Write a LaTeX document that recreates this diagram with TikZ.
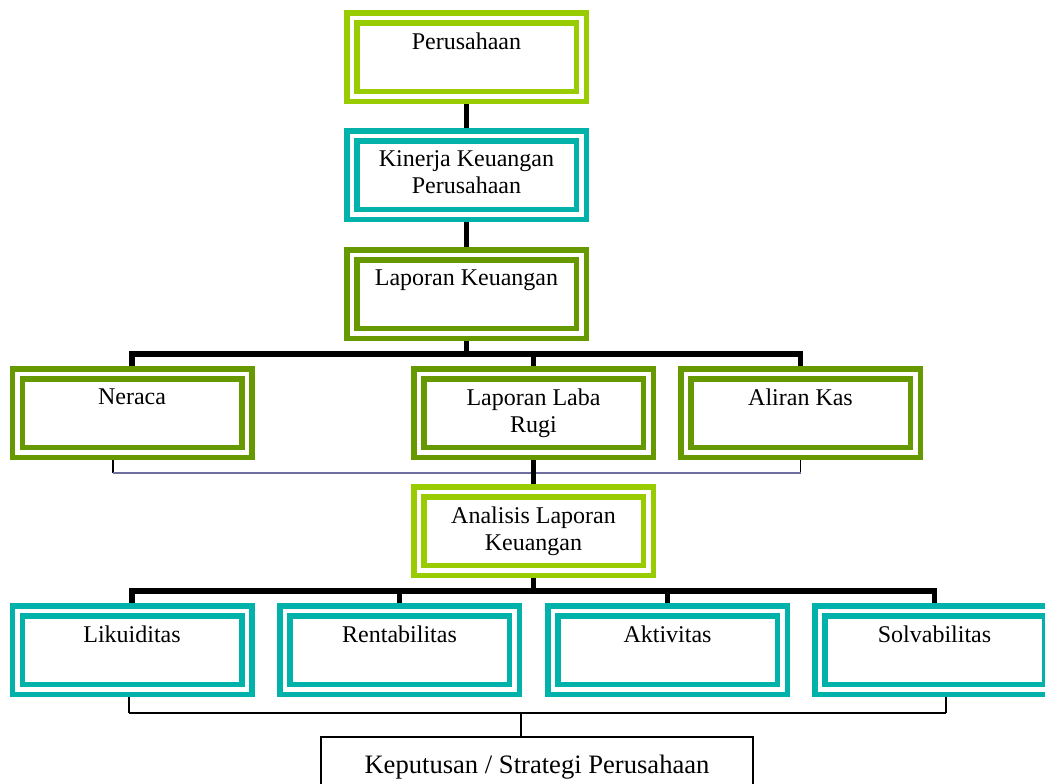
\documentclass[tikz,border=0pt]{standalone}
\usepackage{fontspec}
\setmainfont{Liberation Serif}
\usetikzlibrary{calc}

\definecolor{lgreen}{RGB}{153,204,0}
\definecolor{dgreen}{RGB}{102,153,0}
\definecolor{tealbox}{RGB}{0,178,170}
\definecolor{bluegray}{RGB}{112,112,160}

\begin{document}
\begin{tikzpicture}[x=0.5pt, y=-0.5pt,
  dbox/.style={draw=#1, double=white, line width=2.75pt, double distance=2.25pt,
    minimum width=114.75pt, minimum height=39.25pt, inner sep=0pt, outer sep=3.875pt},
  txt/.style={anchor=north, inner sep=0pt, align=center, font=\fontsize{12}{13.5}\selectfont},
  thk/.style={line width=2.75pt},
  thn/.style={line width=0.6pt}]
  \useasboundingbox (0,0) rectangle (1045,783);
  \clip (0,0) rectangle (1045,783);

  % Top column
  \node[dbox=lgreen] (per) at (466.5,57) {};
  \node[dbox=tealbox] (kin) at (466.5,175) {};
  \node[dbox=dgreen] (lap) at (466.5,294) {};

  % Statements
  \node[dbox=dgreen] (ner) at (132,413) {};
  \node[dbox=dgreen] (lrg) at (533.5,413) {};
  \node[dbox=dgreen] (ali) at (800.5,413) {};
  \node[dbox=lgreen] (ana) at (533.5,531) {};

  % Ratios
  \node[dbox=tealbox] (lik) at (132,650) {};
  \node[dbox=tealbox] (ren) at (399.5,650) {};
  \node[dbox=tealbox] (akt) at (667.5,650) {};
  \node[dbox=tealbox] (sol) at (934.5,650) {};

  % Decision
  \node[draw, line width=0.7pt, minimum width=216pt, minimum height=30pt,
    font=\fontsize{13.3}{15}\selectfont] (kep) at (537,767) {Keputusan / Strategi Perusahaan};

  % Box texts
  \node[txt] (per-t) at ($(per.center)+(0,-25)$) {Perusahaan};
  \node[txt] (kin-t) at ($(kin.center)+(0,-25)$) {Kinerja Keuangan\\Perusahaan};
  \node[txt] (lap-t) at ($(lap.center)+(0,-25)$) {Laporan Keuangan};
  \node[txt] (ner-t) at ($(ner.center)+(0,-25)$) {Neraca};
  \node[txt] (lrg-t) at ($(lrg.center)+(0,-25)$) {Laporan Laba\\Rugi};
  \node[txt] (ali-t) at ($(ali.center)+(0,-25)$) {Aliran Kas};
  \node[txt] (ana-t) at ($(ana.center)+(0,-25)$) {Analisis Laporan\\Keuangan};
  \node[txt] (lik-t) at ($(lik.center)+(0,-25)$) {Likuiditas};
  \node[txt] (ren-t) at ($(ren.center)+(0,-25)$) {Rentabilitas};
  \node[txt] (akt-t) at ($(akt.center)+(0,-25)$) {Aktivitas};
  \node[txt] (sol-t) at ($(sol.center)+(0,-25)$) {Solvabilitas};

  % Thick links, upper part
  \coordinate (bus1) at (466.5,354);
  \draw[thk] (per) -- (kin);
  \draw[thk] (kin) -- (lap);
  \draw[thk] (lap) -- (bus1);
  \draw[thk] (ner.north) |- (bus1) -| (ali.north);
  \draw[thk] (lrg.north) -- (lrg.north |- bus1);

  % Thin bracket under statements
  \draw[thn] ([xshift=-9.5pt]ner.south) -- ++(0,13) coordinate (brkA);
  \draw[thn] (ali.south) -- ++(0,13) coordinate (brkB);
  \draw[thn, bluegray] (brkA) -- (brkB);
  \draw[thk] (lrg) -- (ana);

  % Thick links, lower part
  \coordinate (bus2) at (533,591);
  \draw[thk] (ana.south) -- (ana.south |- bus2);
  \draw[thk] (lik.north) |- (bus2) -| (sol.north);
  \draw[thk] (ren.north) -- (ren.north |- bus2);
  \draw[thk] (akt.north) -- (akt.north |- bus2);

  % Thin bracket to decision
  \draw[thn] ([xshift=-1.5pt]lik.south) -- ++(0,16) coordinate (brkC);
  \draw[thn] ([xshift=5.75pt]sol.south) -- ++(0,16) coordinate (brkD);
  \draw[thn] (brkC) -- (brkD);
  \draw[thn] ([xshift=-8pt]kep.north) -- ([xshift=-8pt]kep.north |- brkC);
\end{tikzpicture}
\end{document}
